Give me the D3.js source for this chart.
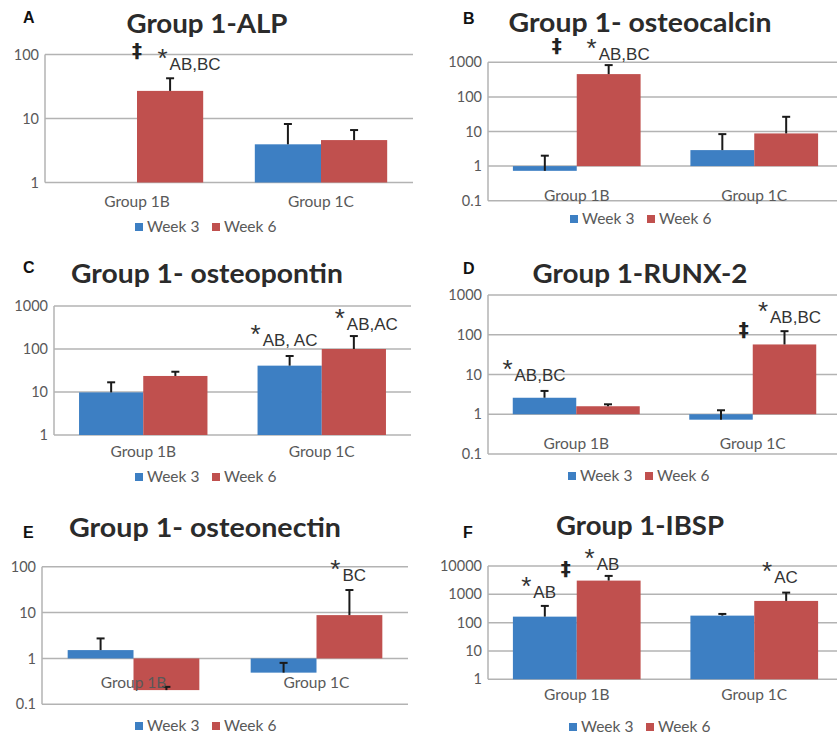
<!DOCTYPE html>
<html>
<head>
<meta charset="utf-8">
<script src="https://d3js.org/d3.v7.min.js"></script>
<style>
body { margin: 0; background: #fff; }
.grid line { stroke: #b3b3b3; stroke-width: 1.5px; }
.tick-label { font-family: Lato, sans-serif; font-size: 14.5px; fill: #595959; }
.cat-label { font-family: Lato, sans-serif; font-size: 15.5px; fill: #595959; }
.legend text { font-family: Lato, sans-serif; font-size: 15.5px; fill: #595959; }
.title { font-family: Lato, sans-serif; font-weight: bold; font-size: 27px; fill: #2b2b2b; }
.letter { font-family: "Liberation Sans", Arial, sans-serif; font-weight: bold; font-size: 16px; fill: #111; }
.err { stroke: #1a1a1a; stroke-width: 2px; }
.note { font-family: "Liberation Sans", Arial, sans-serif; fill: #333; }
</style>
</head>
<body>
<svg width="837" height="737"></svg>
<script>

// chart values
var letters = ["A", "B", "C", "D", "E", "F"];
var titles = ["Group 1-ALP", "Group 1- osteocalcin", "Group 1- osteopontin",
              "Group 1-RUNX-2", "Group 1- osteonectin", "Group 1-IBSP"];
var groups = ["Group 1B", "Group 1C"];
var weeks = ["Week 3", "Week 6"];
var colors = ["#3d7fc3", "#c0504e"];

// bar heights, per panel: [Group 1B, Group 1C]
var week3 = [[1, 3.95], [0.73, 2.9], [9.8, 41], [2.6, 0.73], [1.52, 0.49], [163, 177]];
var week6 = [[27, 4.6], [456, 8.8], [23.6, 100], [1.59, 57], [0.204, 8.8], [3050, 585]];
// top of the error bar
var week3Err = [[null, 8.2], [2.0, 8.4], [16.8, 68.7], [3.86, 1.26], [2.73, 0.8], [390, 203]];
var week6Err = [[42.5, 6.6], [830, 26.6], [29.6, 200], [1.78, 123], [0.24, 31], [4470, 1150]];

var yTicks = [[1, 10, 100], [0.1, 1, 10, 100, 1000], [1, 10, 100, 1000],
              [0.1, 1, 10, 100, 1000], [0.1, 1, 10, 100], [1, 10, 100, 1000, 10000]];

// significance marks: panel, group, week, subscript, level (in data units)
var stars = [
  [0, 0, 1, "AB,BC", 109],
  [1, 0, 1, "AB,BC", 3840],
  [2, 1, 0, "AB, AC", 308],
  [2, 1, 1, "AB,AC", 725],
  [3, 0, 0, "AB,BC", 19.3],
  [3, 1, 1, "AB,BC", 557],
  [4, 1, 1, "BC", 119],
  [5, 0, 0, "AB", 3230],
  [5, 0, 1, "AB", 31500],
  [5, 1, 1, "AC", 10900]
];
var starNudge = [-7.5, -17, -34, -14, -37, -21.5, -14, -18.5, -19, -19];

// double dagger marks: panel, group, level
var daggers = [[0, 0, 117], [1, 0, 3140], [3, 1, 138], [5, 0, 8570]];
var daggerNudge = [0, -20, -9, -11];

// panel placement
var layout = [
  {x0: 45,  x1: 413, y0: 54.5,  y1: 182.5, tx: 207, ty: 33,  tw: 161, lx: 23,  ly: 23,  catDy: 19.5, legX: 135, legY: 227},
  {x0: 488, x1: 843, y0: 62.3,  y1: 200.7, tx: 640, ty: 32,  tw: 263, lx: 463, ly: 24,  catDy: 29,   legX: 570, legY: 219},
  {x0: 54,  x1: 411, y0: 306,   y1: 435,   tx: 207, ty: 283, tw: 272, lx: 23,  ly: 273, catDy: 17,   legX: 135, legY: 477},
  {x0: 488, x1: 841, y0: 295,   y1: 454,   tx: 640, ty: 283, tw: 215, lx: 463, ly: 274, catDy: 29,   legX: 568, legY: 476},
  {x0: 42,  x1: 408, y0: 566.7, y1: 704.3, tx: 205, ty: 537, tw: 272, lx: 23,  ly: 538, catDy: 23.7, legX: 135, legY: 726},
  {x0: 488, x1: 843, y0: 566,   y1: 679.3, tx: 640, ty: 535, tw: 168, lx: 463, ly: 538, catDy: 15.7, legX: 569, legY: 727}
];

var svg = d3.select("svg");
var scales = [];

layout.forEach(function(L, p) {
    var g = svg.append("g");
    var ticks = yTicks[p];
    var y = d3.scaleLog().domain([ticks[0], ticks[ticks.length - 1]]).range([L.y1, L.y0]);
    var x0 = d3.scaleBand().domain(groups).range([L.x0, L.x1]);
    var x1 = d3.scaleBand().domain(weeks).range([0, x0.bandwidth()]).paddingInner(0).paddingOuter(0.39);
    scales.push({x0: x0, x1: x1, y: y});

    // gridlines
    g.append("g").attr("class", "grid")
        .selectAll("line").data(ticks).enter().append("line")
        .attr("x1", L.x0).attr("x2", L.x1)
        .attr("y1", function(d) { return y(d); })
        .attr("y2", function(d) { return y(d); });
    g.append("g").attr("class", "grid").append("line")
        .attr("x1", L.x0).attr("x2", L.x0).attr("y1", L.y0).attr("y2", L.y1);

    // y tick labels
    g.selectAll(".tick-label").data(ticks).enter().append("text")
        .attr("class", "tick-label")
        .attr("x", L.x0 - 6)
        .attr("y", function(d) { return y(d); })
        .attr("dy", "0.35em")
        .attr("text-anchor", "end")
        .text(function(d) { return String(d); });

    // bars
    var rows = [];
    groups.forEach(function(gr, i) {
        rows.push({group: gr, week: weeks[0], v: week3[p][i], e: week3Err[p][i], c: colors[0]});
        rows.push({group: gr, week: weeks[1], v: week6[p][i], e: week6Err[p][i], c: colors[1]});
    });
    g.selectAll("rect.bar").data(rows).enter().append("rect")
        .attr("class", "bar")
        .attr("x", function(d) { return x0(d.group) + x1(d.week); })
        .attr("width", x1.bandwidth())
        .attr("y", function(d) { return Math.min(y(d.v), y(1)); })
        .attr("height", function(d) { return Math.abs(y(d.v) - y(1)); })
        .attr("fill", function(d) { return d.c; });

    // error bars (upper only)
    var errs = rows.filter(function(d) { return d.e != null; });
    var eg = g.selectAll("g.errbar").data(errs).enter().append("g").attr("class", "errbar");
    eg.append("line").attr("class", "err")
        .attr("x1", function(d) { return x0(d.group) + x1(d.week) + x1.bandwidth() / 2; })
        .attr("x2", function(d) { return x0(d.group) + x1(d.week) + x1.bandwidth() / 2; })
        .attr("y1", function(d) { return y(d.v); })
        .attr("y2", function(d) { return y(d.e); });
    eg.append("line").attr("class", "err")
        .attr("x1", function(d) { return x0(d.group) + x1(d.week) + x1.bandwidth() / 2 - 4; })
        .attr("x2", function(d) { return x0(d.group) + x1(d.week) + x1.bandwidth() / 2 + 4; })
        .attr("y1", function(d) { return y(d.e); })
        .attr("y2", function(d) { return y(d.e); });

    // category labels
    g.selectAll(".cat-label").data(groups).enter().append("text")
        .attr("class", "cat-label")
        .attr("x", function(d) { return x0(d) + x0.bandwidth() / 2; })
        .attr("y", y(1) + L.catDy)
        .attr("dy", "0.35em")
        .attr("text-anchor", "middle")
        .text(function(d) { return d; });

    // title and panel letter
    g.append("text").attr("class", "title")
        .attr("x", L.tx).attr("y", L.ty)
        .attr("text-anchor", "middle")
        .attr("textLength", L.tw)
        .attr("lengthAdjust", "spacingAndGlyphs")
        .text(titles[p]);
    g.append("text").attr("class", "letter")
        .attr("x", L.lx).attr("y", L.ly)
        .text(letters[p]);

    // legend
    var leg = g.append("g").attr("class", "legend");
    weeks.forEach(function(w, i) {
        leg.append("rect")
            .attr("x", L.legX + i * 77).attr("y", L.legY - 4)
            .attr("width", 8).attr("height", 8)
            .attr("fill", colors[i]);
        leg.append("text")
            .attr("x", L.legX + i * 77 + 12).attr("y", L.legY)
            .attr("dy", "0.35em")
            .text(w);
    });
});

// stars with subscripts
stars.forEach(function(s, k) {
    var sc = scales[s[0]];
    var cx = sc.x0(groups[s[1]]) + sc.x1(weeks[s[2]]) + sc.x1.bandwidth() / 2 + starNudge[k];
    var cy = sc.y(s[4]);
    svg.append("text").attr("class", "note")
        .attr("x", cx).attr("y", cy + 15)
        .attr("text-anchor", "middle")
        .style("font-size", "26px")
        .text("*");
    svg.append("text").attr("class", "note")
        .attr("x", cx + 7).attr("y", cy + 18)
        .style("font-size", "17px")
        .text(s[3]);
});

// double daggers
daggers.forEach(function(dg, k) {
    var sc = scales[dg[0]];
    var cx = sc.x0(groups[dg[1]]) + sc.x0.bandwidth() / 2 + daggerNudge[k];
    svg.append("text").attr("class", "note")
        .attr("x", cx).attr("y", sc.y(dg[2]))
        .attr("dy", "0.35em")
        .attr("text-anchor", "middle")
        .style("font-size", "20px")
        .style("font-weight", "bold")
        .style("font-family", "'DejaVu Sans', sans-serif")
        .style("fill", "#222")
        .text("\u2021");
});

</script>
</body>
</html>
